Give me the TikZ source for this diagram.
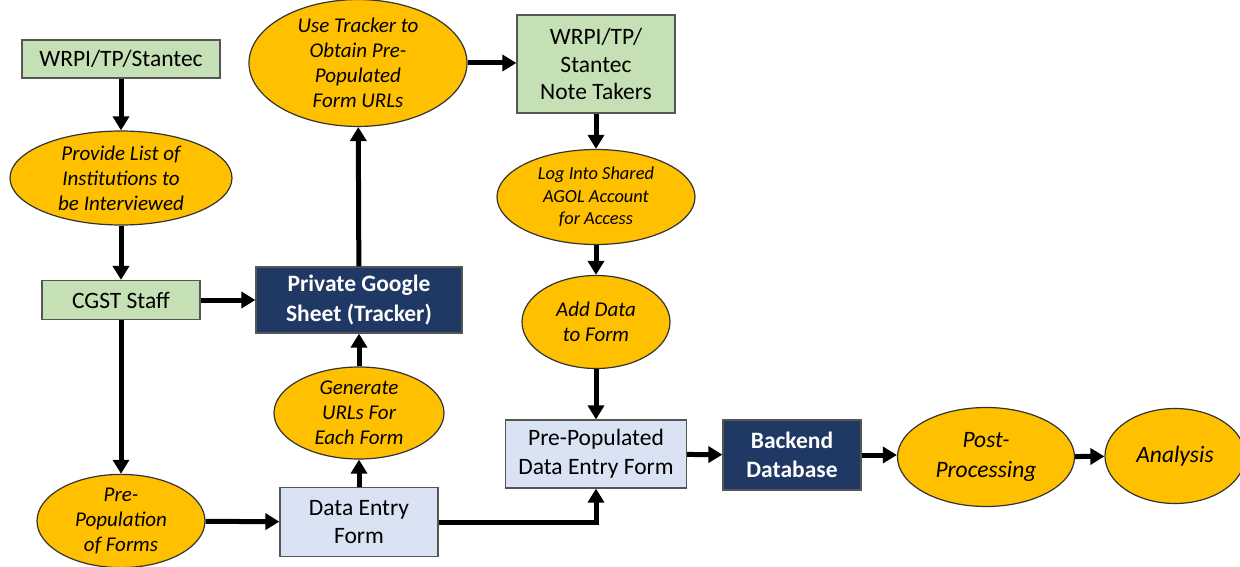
\documentclass[tikz,border=0pt]{standalone}
\usepackage{fontspec}
\setmainfont{Carlito}
\usetikzlibrary{shapes.geometric,arrows.meta}
\definecolor{boxgreen}{HTML}{C5E0B4}
\definecolor{boxblue}{HTML}{DAE3F3}
\definecolor{navy}{HTML}{203864}
\definecolor{gold}{HTML}{FFC000}
\definecolor{edge}{HTML}{555555}
\tikzset{
  gbox/.style={rectangle,draw=edge,line width=1.2pt,fill=boxgreen,inner sep=0pt,align=center,font=\fontsize{23.5}{27.5}\selectfont},
  bbox/.style={rectangle,draw=edge,line width=1.2pt,fill=boxblue,inner sep=0pt,align=center,font=\fontsize{23.5}{29}\selectfont},
  nbox/.style={rectangle,draw=edge,line width=1.2pt,fill=navy,text=white,inner sep=0pt,align=center,font=\fontsize{23.5}{29.5}\selectfont\bfseries},
  oval/.style={ellipse,draw=black!80,line width=1.2pt,fill=gold,inner sep=0pt,align=center,font=\fontsize{21}{25}\selectfont\itshape},
  flow/.style={line width=5pt,-{Triangle[length=14pt,width=16pt]}},
}
\begin{document}
\begin{tikzpicture}[x=1pt,y=-1pt]
\useasboundingbox (0,0) rectangle (1240,567);
\clip (0,0) rectangle (1240,567);
\node[gbox,minimum width=198pt,minimum height=38pt] (n1) at (121,59) {WRPI/TP/Stantec};
\node[oval,minimum width=222pt,minimum height=94pt] (e1) at (121,178) {Provide List of\\Institutions to\\be Interviewed};
\node[gbox,minimum width=158pt,minimum height=39pt] (n2) at (121,300) {CGST Staff};
\node[oval,minimum width=168pt,minimum height=88pt] (e2) at (121,521) {Pre-\\Population\\of Forms};
\node[bbox,minimum width=158pt,minimum height=69pt,font=\fontsize{23.5}{28}\selectfont] (n3) at (359,522) {Data Entry\\Form};
\node[oval,minimum width=170pt,minimum height=92pt] (e3) at (359,413) {Generate\\URLs For\\Each Form};
\node[nbox,minimum width=206pt,minimum height=66pt] (n4) at (359,300) {Private Google\\Sheet (Tracker)};
\node[oval,minimum width=218pt,minimum height=116pt] (e4) at (358,63) {Use Tracker to\\Obtain Pre-\\Populated\\Form URLs};
\node[gbox,minimum width=158pt,minimum height=98pt] (n5) at (596,64) {WRPI/TP/\\Stantec\\Note Takers};
\node[oval,minimum width=198pt,minimum height=95pt,font=\fontsize{18.4}{22.5}\selectfont\itshape] (e5) at (596,197) {Log Into Shared\\AGOL Account\\for Access};
\node[oval,minimum width=148pt,minimum height=93pt] (e6) at (596,322) {Add Data\\to Form};
\node[bbox,minimum width=181pt,minimum height=68pt] (n6) at (596,454) {Pre-Populated\\Data Entry Form};
\node[nbox,minimum width=138pt,minimum height=70pt] (n7) at (792,455) {Backend\\Database};
\node[oval,minimum width=177pt,minimum height=99pt,font=\fontsize{23.5}{30}\selectfont\itshape] (e7) at (986,457) {Post-\\Processing};
\node[oval,minimum width=140pt,minimum height=95pt,font=\fontsize{23.5}{30}\selectfont\itshape] (e8) at (1175,456) {Analysis};
\draw[flow] (n1) -- (e1);
\draw[flow] (e1) -- (n2);
\draw[flow] (n2) -- (e2);
\draw[flow] (n2) -- (n4);
\draw[flow] (e2) -- (n3);
\draw[flow] (n3) -- (e3);
\draw[flow] (e3) -- (n4);
\draw[flow] (n4) -- (e4);
\draw[flow] (e4.east) -- (n5.west |- e4.east);
\draw[flow] (n5) -- (e5);
\draw[flow] (e5) -- (e6);
\draw[flow] (e6) -- (n6);
\draw[flow] (n3.east) -| (n6.south);
\draw[flow] (n6) -- (n7);
\draw[flow] (n7) -- (e7.west |- n7.east);
\draw[flow] (e7) -- (e8);
\end{tikzpicture}
\end{document}
